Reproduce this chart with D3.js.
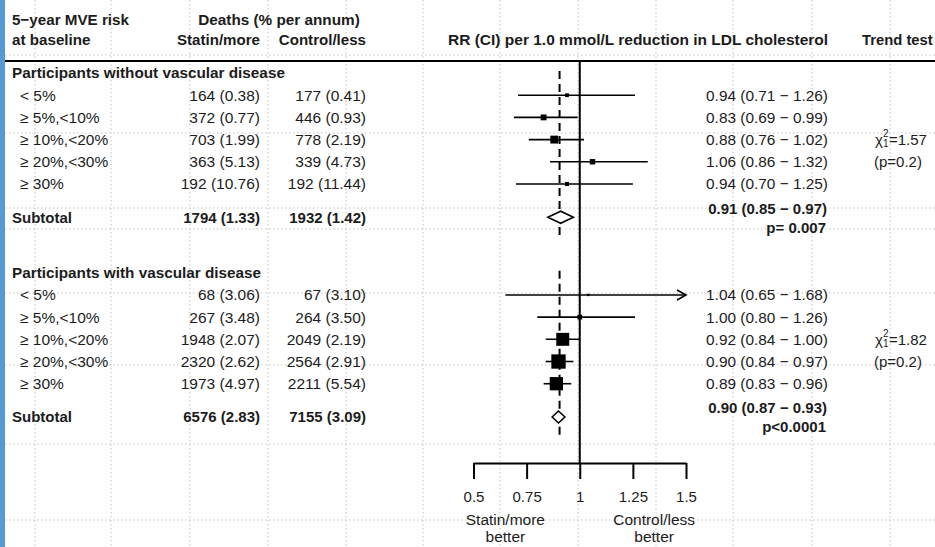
<!DOCTYPE html>
<html>
<head>
<meta charset="utf-8">
<script src="https://cdn.jsdelivr.net/npm/d3@7"></script>
<style>
    body { margin: 0; background: #fff; }
    svg { display: block; font-family: "Liberation Sans", Arial, sans-serif; }
    .grid line { stroke: #c4c4c4; stroke-width: 1; stroke-dasharray: 1.5,2.5; }
    .bold { font-weight: bold; }
</style>
</head>
<body>
<div id="chart"></div>
<script>
// values
var groups = ["Participants without vascular disease", "Participants with vascular disease"];
var riskLabels = ["< 5%", "\u2265 5%,<10%", "\u2265 10%,<20%", "\u2265 20%,<30%", "\u2265 30%"];

var statinDeaths = [[164, 372, 703, 363, 192], [68, 267, 1948, 2320, 1973]];
var statinPct = [[0.38, 0.77, 1.99, 5.13, 10.76], [3.06, 3.48, 2.07, 2.62, 4.97]];
var controlDeaths = [[177, 446, 778, 339, 192], [67, 264, 2049, 2564, 2211]];
var controlPct = [[0.41, 0.93, 2.19, 4.73, 11.44], [3.10, 3.50, 2.19, 2.91, 5.54]];

var rr = [[0.94, 0.83, 0.88, 1.06, 0.94], [1.04, 1.00, 0.92, 0.90, 0.89]];
var rrLow = [[0.71, 0.69, 0.76, 0.86, 0.70], [0.65, 0.80, 0.84, 0.84, 0.83]];
var rrHigh = [[1.26, 0.99, 1.02, 1.32, 1.25], [1.68, 1.26, 1.00, 0.97, 0.96]];

var subStatin = [[1794, 1.33], [6576, 2.83]];
var subControl = [[1932, 1.42], [7155, 3.09]];
var subRR = [0.91, 0.90];
var subLow = [0.85, 0.87];
var subHigh = [0.97, 0.93];
var subP = ["p= 0.007", "p<0.0001"];

var trendChi = ["1.57", "1.82"];
var trendP = ["(p=0.2)", "(p=0.2)"];

var overallRR = 0.905;
var axisTicks = [0.5, 0.75, 1, 1.25, 1.5];

var width = 935, height = 547, ink = "#1c1c1c";

var svg = d3.select("#chart").append("svg")
    .attr("width", width)
    .attr("height", height);

// faint dotted background grid
var grid = svg.append("g").attr("class", "grid");
grid.selectAll(".gv").data([35, 111, 190, 268, 346, 423, 500, 578, 656, 733, 812, 890]).enter()
    .append("line").attr("x1", d => d).attr("x2", d => d).attr("y1", 0).attr("y2", height);
grid.selectAll(".gh").data([55, 133, 208, 229, 293, 365, 444, 520]).enter()
    .append("line").attr("x1", 5).attr("x2", width).attr("y1", d => d).attr("y2", d => d);

svg.append("rect").attr("x", 0).attr("y", 0).attr("width", 5).attr("height", height).attr("fill", "#5799d5");

var x = d3.scaleLinear().domain([0.5, 1.5]).range([473.5, 686]);
// row index -> y (header 0, rows 1..5, subtotal 6.5; second group shifted by 9)
var yRow = d3.scaleLinear().domain([0, 15.5]).range([73, 417]);
var boxSize = d3.scaleSqrt().domain([0, 5000]).range([0, 14.5]);
var fmt2 = d3.format(".2f");

function txt(g, xp, yp, s, opts) {
    opts = opts || {};
    return g.append("text")
        .attr("x", xp).attr("y", yp)
        .attr("dy", opts.dy === undefined ? "0.35em" : opts.dy)
        .attr("text-anchor", opts.anchor || "start")
        .attr("font-size", opts.size || 15.5)
        .attr("class", opts.bold ? "bold" : null)
        .attr("fill", ink)
        .text(s);
}

// headers
var head = svg.append("g");
txt(head, 12, 25, "5\u2212year MVE risk", {bold: true, dy: 0, size: 15.2});
txt(head, 12, 45, "at baseline", {bold: true, dy: 0, size: 15.2});
txt(head, 279, 25, "Deaths (% per annum)", {bold: true, dy: 0, anchor: "middle", size: 15.3});
txt(head, 260, 45, "Statin/more", {bold: true, dy: 0, anchor: "end", size: 15.1});
txt(head, 366, 45, "Control/less", {bold: true, dy: 0, anchor: "end", size: 15.1});
txt(head, 448, 45, "RR (CI) per 1.0 mmol/L reduction in LDL cholesterol", {bold: true, dy: 0, size: 15.5});
txt(head, 862, 45, "Trend test", {bold: true, dy: 0, size: 14.8});

svg.append("line").attr("x1", 5).attr("x2", width).attr("y1", 61).attr("y2", 61)
    .attr("stroke", "#000").attr("stroke-width", 2);

// vertical line of no effect
svg.append("line").attr("x1", x(1)).attr("x2", x(1)).attr("y1", 62).attr("y2", 463)
    .attr("stroke", "#000").attr("stroke-width", 2);

var plot = svg.append("g");

groups.forEach(function (gName, gi) {
    var off = gi * 9;
    var g = plot.append("g").attr("class", "group-" + gi);

    // overall estimate dashed line
    g.append("line")
        .attr("x1", x(overallRR)).attr("x2", x(overallRR))
        .attr("y1", yRow(off) - 2).attr("y2", yRow(off + 7.5))
        .attr("stroke", "#000").attr("stroke-width", 2).attr("stroke-dasharray", "8,5");

    txt(g, 12, yRow(off), gName, {bold: true, size: 15.3});

    riskLabels.forEach(function (lab, i) {
        var yy = yRow(off + 1 + i);
        txt(g, 20, yy, lab);
        txt(g, 260, yy, statinDeaths[gi][i] + " (" + fmt2(statinPct[gi][i]) + ")", {anchor: "end"});
        txt(g, 366, yy, controlDeaths[gi][i] + " (" + fmt2(controlPct[gi][i]) + ")", {anchor: "end"});
        txt(g, 828, yy, fmt2(rr[gi][i]) + " (" + fmt2(rrLow[gi][i]) + " \u2212 " + fmt2(rrHigh[gi][i]) + ")",
            {anchor: "end", size: 15.4});

        var hi = Math.min(rrHigh[gi][i], 1.5);
        g.append("line")
            .attr("x1", x(rrLow[gi][i])).attr("x2", x(hi))
            .attr("y1", yy).attr("y2", yy)
            .attr("stroke", "#000").attr("stroke-width", 1.6);
        if (rrHigh[gi][i] > 1.5) {
            // clipped interval -> arrow
            g.append("path")
                .attr("d", "M" + (x(1.5) - 9) + "," + (yy - 5) + "L" + x(1.5) + "," + yy + "L" + (x(1.5) - 9) + "," + (yy + 5))
                .attr("fill", "none").attr("stroke", "#000").attr("stroke-width", 1.6);
        }
        var s = Math.max(2, boxSize(statinDeaths[gi][i] + controlDeaths[gi][i]));
        g.append("rect")
            .attr("x", x(rr[gi][i]) - s / 2).attr("y", yy - s / 2)
            .attr("width", s).attr("height", s)
            .attr("fill", "#000");
    });

    // subtotal
    var ys = yRow(off + 6.5);
    txt(g, 12, ys, "Subtotal", {bold: true, size: 15});
    txt(g, 260, ys, subStatin[gi][0] + " (" + fmt2(subStatin[gi][1]) + ")", {anchor: "end", bold: true, size: 15});
    txt(g, 366, ys, subControl[gi][0] + " (" + fmt2(subControl[gi][1]) + ")", {anchor: "end", bold: true, size: 15});
    txt(g, 827, ys - 9, fmt2(subRR[gi]) + " (" + fmt2(subLow[gi]) + " \u2212 " + fmt2(subHigh[gi]) + ")",
        {anchor: "end", bold: true, size: 15});
    txt(g, 826, ys + 10, subP[gi], {anchor: "end", bold: true, size: 15});

    g.append("path")
        .attr("d", "M" + x(subLow[gi]) + "," + ys + "L" + x(subRR[gi]) + "," + (ys - 6) +
            "L" + x(subHigh[gi]) + "," + ys + "L" + x(subRR[gi]) + "," + (ys + 6) + "Z")
        .attr("fill", "#fff").attr("stroke", "#000").attr("stroke-width", 1.6);

    // trend test chi-square
    var yc = yRow(off + 3), tx = 875;
    var chi = txt(g, tx, yc, "\u03c7", {size: 15});
    var cw = chi.node().getComputedTextLength();
    txt(g, tx + cw, yc - 6, "2", {size: 10});
    txt(g, tx + cw, yc + 4, "1", {size: 10});
    txt(g, tx + cw + 6, yc, "=" + trendChi[gi], {size: 15});
    txt(g, 874, yRow(off + 4), trendP[gi], {size: 15});
});

// bottom bracket axis
var xAxis = d3.axisBottom(x)
    .tickValues(axisTicks)
    .tickFormat(d => String(d))
    .tickSize(16)
    .tickSizeOuter(0)
    .tickPadding(12);

var ax = svg.append("g")
    .attr("transform", "translate(0,463)")
    .call(xAxis);
ax.select(".domain").attr("stroke", "#000").attr("stroke-width", 2);
ax.selectAll(".tick line").attr("stroke", "#000").attr("stroke-width", 2);
ax.selectAll(".tick text")
    .attr("fill", ink)
    .attr("font-size", 15)
    .attr("font-family", "Liberation Sans, Arial, sans-serif");

var foot = svg.append("g");
txt(foot, x(0.65), 520, "Statin/more", {anchor: "middle", size: 15.5});
txt(foot, x(0.65), 537, "better", {anchor: "middle", size: 15.5});
txt(foot, x(1.35), 520, "Control/less", {anchor: "middle", size: 15.5});
txt(foot, x(1.35), 537, "better", {anchor: "middle", size: 15.5});
</script>
</body>
</html>
